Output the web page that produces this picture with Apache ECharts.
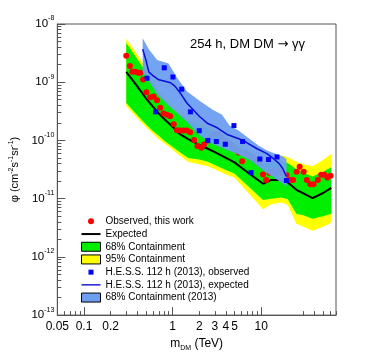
<!DOCTYPE html>
<html>
<head>
<meta charset="utf-8">
<title>index</title>
<script src="https://cdn.jsdelivr.net/npm/echarts@6/dist/echarts.min.js"></script>
<style>
  html, body { margin: 0; padding: 0; background: #fff; }
  #main { width: 374px; height: 357px; }
</style>
</head>
<body>
<div id="main"></div>
<script>
// expected limit and containment bands (this work)
var expMass = [0.3, 0.4, 0.5, 0.6, 0.7, 0.8, 1.0, 1.2, 1.5, 2.0, 2.5, 3.0, 4.0, 5.0, 6.0, 8.0, 10.5, 13, 17, 20, 25, 30, 38, 50, 62];
var expFlux = [1.5e-9, 8.5e-10, 5.3e-10, 3.8e-10, 2.9e-10, 2.35e-10, 1.72e-10, 1.3e-10, 1.05e-10, 8.4e-11, 7.2e-11, 6.3e-11, 5.0e-11, 4.2e-11, 3.4e-11, 2.45e-11, 1.8e-11, 2.1e-11, 2.1e-11, 1.9e-11, 1.42e-11, 1.23e-11, 1.02e-11, 1.25e-11, 1.53e-11];
var green68Hi = [4.7e-9, 2.5e-9, 1.5e-9, 9.5e-10, 6.8e-10, 5.2e-10, 3.5e-10, 2.8e-10, 2.3e-10, 1.75e-10, 1.55e-10, 1.35e-10, 1.1e-10, 9.0e-11, 7.2e-11, 5.3e-11, 3.9e-11, 4.3e-11, 4.5e-11, 4.1e-11, 3.2e-11, 2.8e-11, 2.4e-11, 2.9e-11, 3.45e-11];
var green68Lo = [4.4e-10, 2.7e-10, 1.9e-10, 1.45e-10, 1.2e-10, 1.0e-10, 7.8e-11, 6.3e-11, 5.0e-11, 4.7e-11, 4.3e-11, 3.8e-11, 3.1e-11, 2.7e-11, 2.1e-11, 1.4e-11, 9.5e-12, 1.0e-11, 1.05e-11, 9.8e-12, 5.5e-12, 5.2e-12, 4.5e-12, 5.0e-12, 5.5e-12];
var yellow95Hi = [5.6e-9, 3.0e-9, 1.8e-9, 1.15e-9, 8.2e-10, 6.3e-10, 4.3e-10, 3.4e-10, 2.8e-10, 2.1e-10, 1.85e-10, 1.6e-10, 1.3e-10, 1.07e-10, 8.7e-11, 6.4e-11, 4.7e-11, 5.2e-11, 5.5e-11, 5.2e-11, 4.3e-11, 3.9e-11, 3.6e-11, 4.6e-11, 5.9e-11];
var yellow95Lo = [3.9e-10, 2.4e-10, 1.7e-10, 1.3e-10, 1.05e-10, 9.0e-11, 7.0e-11, 5.5e-11, 4.3e-11, 3.9e-11, 3.6e-11, 3.2e-11, 2.6e-11, 2.3e-11, 1.7e-11, 1.05e-11, 6.6e-12, 8.0e-12, 8.6e-12, 7.8e-12, 3.7e-12, 3.3e-12, 2.8e-12, 3.3e-12, 3.9e-12];

// observed, this work
var obsMass = [0.30, 0.33, 0.352, 0.381, 0.408, 0.433, 0.464, 0.506, 0.561, 0.612, 0.667, 0.727, 0.79, 0.864, 0.94, 1.03, 1.12, 1.22, 1.33, 1.45, 1.58, 1.75, 1.91, 2.12, 2.27, 2.5, 2.7, 3.0, 3.3, 3.6, 3.9, 4.3, 4.7, 5.1, 5.6, 6.1, 6.7, 7.3, 8.0, 8.7, 9.5, 10.5, 11.4, 12.4, 13.5, 14.7, 16.0, 17.4, 19.3, 21.0, 22.9, 25.2, 27.2, 30.2, 32.8, 35.9, 39.0, 43.6, 47.6, 51.6, 55.9, 60.8];
var obsFlux = [2.85e-9, 1.9e-9, 1.51e-9, 1.51e-9, 1.46e-9, 1.46e-9, 1.11e-9, 6.7e-10, 5.5e-10, 5.7e-10, 4.9e-10, 3.65e-10, 2.9e-10, 2.75e-10, 2.6e-10, 1.9e-10, 1.5e-10, 1.48e-10, 1.48e-10, 1.48e-10, 1.38e-10, 1.02e-10, 8.0e-11, 7.5e-11, 8.5e-11, 1.0e-10, 1.15e-10, 1.3e-10, 1.3e-10, 1.15e-10, 1.0e-10, 9.0e-11, 8.0e-11, 7.0e-11, 6.2e-11, 4.4e-11, 6.0e-11, 5.6e-11, 5.2e-11, 4.6e-11, 4.2e-11, 2.6e-11, 2.1e-11, 2.8e-11, 3.0e-11, 2.8e-11, 3.0e-11, 2.8e-11, 2.55e-11, 2.1e-11, 2.1e-11, 2.9e-11, 3.55e-11, 2.9e-11, 2.1e-11, 1.77e-11, 1.77e-11, 2.1e-11, 2.57e-11, 2.57e-11, 2.3e-11, 2.47e-11];

// H.E.S.S. 112 h (2013)
var hessObsMass = [0.515, 0.644, 0.806, 1.01, 1.27, 1.59, 2.0, 2.5, 3.12, 3.94, 4.93, 6.17, 7.7, 9.67, 12.1, 15.1, 19.3];
var hessObsFlux = [1.17e-9, 3.1e-10, 1.77e-9, 1.23e-9, 7.6e-10, 3.1e-10, 1.47e-10, 1.0e-10, 9.6e-11, 8.6e-11, 1.8e-10, 9.6e-11, 2.8e-11, 4.8e-11, 4.7e-11, 5.2e-11, 2.05e-11];
var hessExpMass = [0.46, 0.5, 0.54, 0.6, 0.7, 0.8, 0.95, 1.07, 1.25, 1.45, 1.7, 2.0, 2.5, 3.2, 4.2, 5.3, 6.3, 7.0, 9.0, 11.5, 13.5, 16.0, 17.5, 19.3];
var hessExpFlux = [3.7e-9, 2.4e-9, 1.5e-9, 1.3e-9, 1.1e-9, 1.05e-9, 9.8e-10, 8.5e-10, 6.2e-10, 4.4e-10, 3.4e-10, 2.6e-10, 1.95e-10, 1.65e-10, 1.25e-10, 1.1e-10, 1.0e-10, 9.0e-11, 7.2e-11, 6.0e-11, 5.0e-11, 4.0e-11, 3.3e-11, 2.4e-11];
var hessBandMass = [0.46, 0.54, 0.67, 0.9, 1.12, 1.45, 2.05, 2.9, 3.6, 4.4, 5.5, 7.5, 9.5, 11.5, 14, 17.7, 19.3];
var hessBandHi = [5.7e-9, 3.7e-9, 2.4e-9, 2.1e-9, 1.2e-9, 7e-10, 4.7e-10, 3.3e-10, 2.8e-10, 1.8e-10, 1.5e-10, 1.05e-10, 8e-11, 6.8e-11, 6.0e-11, 5.3e-11, 4.8e-11];
var hessBandLo = [1.5e-9, 1.05e-9, 6.2e-10, 4.0e-10, 3.0e-10, 2.1e-10, 1.2e-10, 8.5e-11, 7.5e-11, 6.6e-11, 5.8e-11, 4.6e-11, 3.5e-11, 2.8e-11, 2.3e-11, 1.8e-11, 1.6e-11];

// axis ticks
var xTickLabels = [0.05, 0.1, 0.2, 1, 2, 3, 4, 5, 10, 20];
var xMajorTicks = [0.1, 1, 10];
var yDecades = [-13, -12, -11, -10, -9, -8];

var lg = Math.log10;
var FONT = 'Liberation Sans, Arial, Helvetica, sans-serif';

var xMinorTicks = [];
[0.01, 0.1, 1, 10].forEach(function (d) {
    for (var k = 2; k <= 9; k++) {
        var v = k * d;
        if (v >= 0.05 && v <= 70) xMinorTicks.push(lg(v));
    }
});
var yMinorTicks = [];
yDecades.slice(0, -1).forEach(function (e) {
    for (var k = 2; k <= 9; k++) yMinorTicks.push(e + lg(k));
});

function pts(ms, vs) {
    return ms.map(function (m, i) { return [lg(m), lg(vs[i])]; });
}

function band(name, ms, lo, hi, color, opacity, z) {
    return {
        name: name,
        type: 'custom',
        z: z,
        itemStyle: { color: color },
        data: [[lg(ms[0]), lg(hi[0])]],
        renderItem: function (params, api) {
            var poly = [];
            for (var i = 0; i < ms.length; i++) poly.push(api.coord([lg(ms[i]), lg(hi[i])]));
            for (var j = ms.length - 1; j >= 0; j--) poly.push(api.coord([lg(ms[j]), lg(lo[j])]));
            return { type: 'polygon', shape: { points: poly }, style: { fill: color, opacity: opacity } };
        }
    };
}

var chart = echarts.init(document.getElementById('main'));

var xBase = {
    type: 'value', min: lg(0.05), max: lg(70), position: 'bottom',
    splitLine: { show: false }
};
var yBase = {
    type: 'value', min: -13, max: -8, interval: 1, position: 'left',
    splitLine: { show: false }
};

var option = {
    animation: false,
    textStyle: { fontFamily: FONT },
    title: {
        text: '{t|254 h, DM DM }{r|\u2192}{t| \u03b3\u03b3}',
        left: 185, top: 33,
        textStyle: {
            fontWeight: 'normal',
            rich: {
                t: { fontSize: 13, fontWeight: 'normal', color: '#000', fontFamily: FONT },
                r: { fontSize: 13, fontWeight: 'normal', color: '#000', fontFamily: 'DejaVu Sans' }
            }
        }
    },
    grid: { left: 56, right: 38, top: 24, bottom: 36, show: true, borderColor: '#555', borderWidth: 1, backgroundColor: 'transparent' },
    legend: {
        orient: 'vertical', left: 76, top: 210,
        itemWidth: 19, itemHeight: 9, itemGap: 0,
        selectedMode: false,
        textStyle: { fontSize: 10, lineHeight: 12.7, color: '#000', fontFamily: FONT },
        data: [
            { name: 'Observed, this work', icon: 'path://M0,0M19,9M6.5,4.5a3,3 0 1,0 6,0a3,3 0 1,0 -6,0Z' },
            { name: 'Expected', icon: 'path://M0,0M19,9M0,3.5L19,3.5L19,5.5L0,5.5Z' },
            { name: '68% Containment', icon: 'rect', itemStyle: { borderColor: '#000', borderWidth: 1 } },
            { name: '95% Containment', icon: 'rect', itemStyle: { borderColor: '#000', borderWidth: 1 } },
            { name: 'H.E.S.S. 112 h (2013), observed', icon: 'path://M0,0M19,9M7,2L12,2L12,7L7,7Z' },
            { name: 'H.E.S.S. 112 h (2013), expected', icon: 'path://M0,0M19,9M0,3.8L19,3.8L19,5.2L0,5.2Z' },
            { name: '68% Containment (2013)', icon: 'rect', itemStyle: { borderColor: '#000', borderWidth: 1 } }
        ]
    },
    xAxis: [
        Object.assign({}, xBase, {
            name: '{a|m}{s|DM}{a| (TeV)}',
            nameLocation: 'middle', nameGap: 18,
            nameTextStyle: {
                rich: {
                    a: { fontSize: 12, lineHeight: 16, color: '#000', fontFamily: FONT },
                    s: { fontSize: 7, lineHeight: 9, verticalAlign: 'bottom', color: '#000', fontFamily: FONT }
                }
            },
            axisLine: { show: true, onZero: false, lineStyle: { color: '#555', width: 1 } },
            axisTick: { show: true, inside: true, length: 4, customValues: xMinorTicks, lineStyle: { color: '#555' } },
            axisLabel: {
                customValues: xTickLabels.map(lg), margin: 6, fontSize: 12, color: '#000', fontFamily: FONT,
                hideOverlap: false, showMinLabel: true, showMaxLabel: false,
                formatter: function (v) { return String(Number(Math.pow(10, v).toPrecision(2))); }
            }
        }),
        Object.assign({}, xBase, {
            axisLine: { show: false, onZero: false },
            axisTick: { show: true, inside: true, length: 8, customValues: xMajorTicks.map(lg), lineStyle: { color: '#555' } },
            axisLabel: { show: false }
        })
    ],
    yAxis: [
        Object.assign({}, yBase, {
            name: '{a|\u03c6 (cm}{s|-2}{a|s}{s|-1}{a|sr}{s|-1}{a|)}',
            nameLocation: 'middle', nameGap: 21, nameRotate: 90,
            nameTextStyle: {
                rich: {
                    a: { fontSize: 11, lineHeight: 14, color: '#000', fontFamily: FONT },
                    s: { fontSize: 7, lineHeight: 8, verticalAlign: 'top', color: '#000', fontFamily: FONT }
                }
            },
            axisLine: { show: true, onZero: false, lineStyle: { color: '#555', width: 1 } },
            axisTick: { show: true, inside: true, length: 4, customValues: yMinorTicks, lineStyle: { color: '#555' } },
            axisLabel: {
                customValues: yDecades, margin: 3, color: '#000',
                formatter: function (v) { return '{b|10}{s|' + Math.round(v) + '}'; },
                rich: {
                    b: { fontSize: 11.5, lineHeight: 18, color: '#000', fontFamily: FONT },
                    s: { fontSize: 7, lineHeight: 7, verticalAlign: 'top', color: '#000', fontFamily: FONT }
                }
            }
        }),
        Object.assign({}, yBase, {
            axisLine: { show: false, onZero: false },
            axisTick: { show: true, inside: true, length: 8, customValues: yDecades, lineStyle: { color: '#555' } },
            axisLabel: { show: false }
        })
    ],
    series: [
        band('95% Containment', expMass, yellow95Lo, yellow95Hi, '#ffff00', 1, 1),
        band('68% Containment', expMass, green68Lo, green68Hi, '#00ee00', 1, 2),
        {
            name: 'Expected', type: 'line', z: 3, data: pts(expMass, expFlux),
            showSymbol: false, symbol: 'none',
            itemStyle: { color: '#000' },
            lineStyle: { color: '#000', width: 2 }
        },
        {
            name: 'Observed, this work', type: 'scatter', z: 4, data: pts(obsMass, obsFlux),
            symbol: 'circle', symbolSize: 6,
            itemStyle: { color: '#ff0000', opacity: 1 }
        },
        band('68% Containment (2013)', hessBandMass, hessBandLo, hessBandHi, '#6d9ff0', 0.95, 5),
        {
            name: 'H.E.S.S. 112 h (2013), expected', type: 'line', z: 6, data: pts(hessExpMass, hessExpFlux),
            showSymbol: false, symbol: 'none',
            itemStyle: { color: '#0c0cd8' },
            lineStyle: { color: '#0c0cd8', width: 1.5 }
        },
        {
            name: 'H.E.S.S. 112 h (2013), observed', type: 'scatter', z: 7, data: pts(hessObsMass, hessObsFlux),
            symbol: 'rect', symbolSize: 5,
            itemStyle: { color: '#0000ff', opacity: 1 }
        }
    ]
};

chart.setOption(option);
</script>
</body>
</html>
